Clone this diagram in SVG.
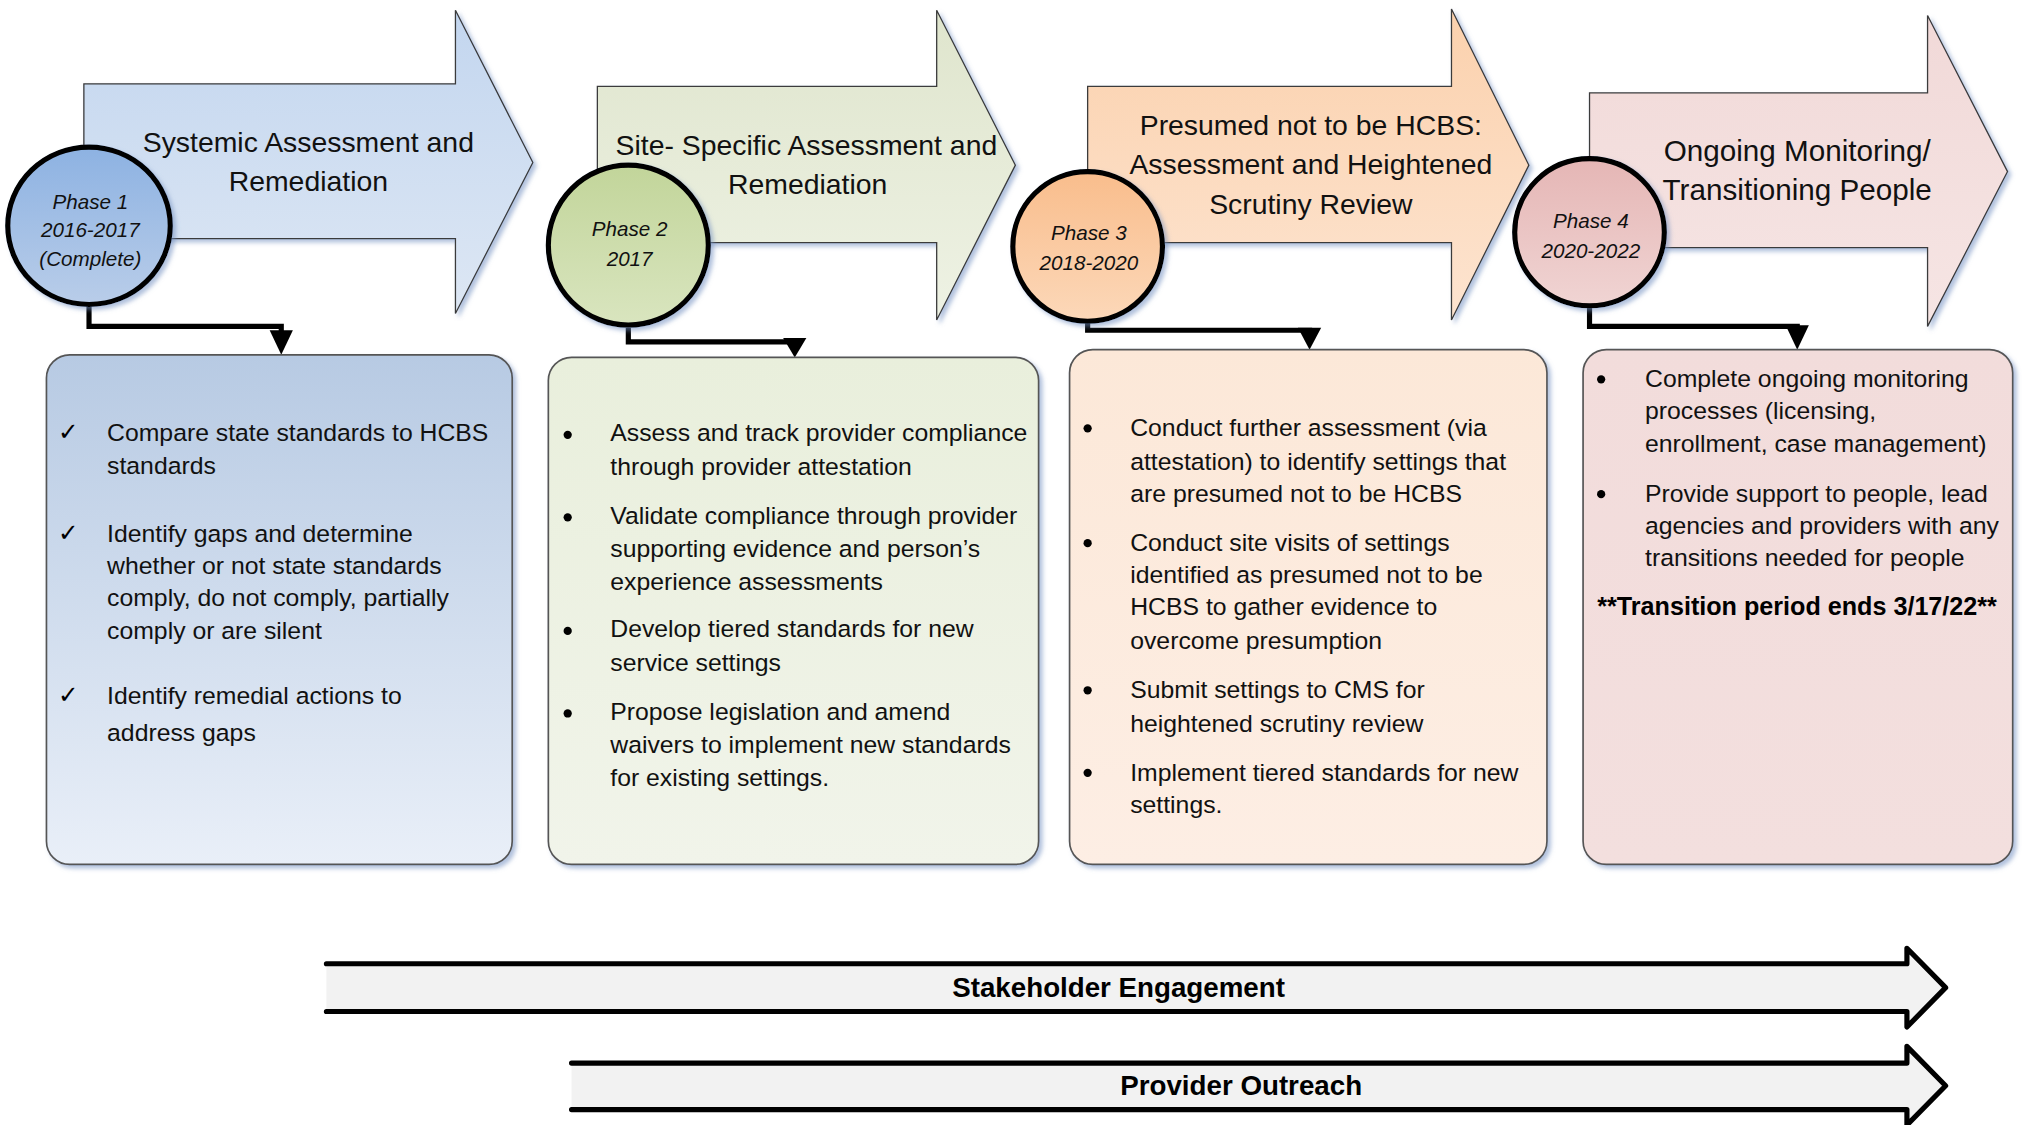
<svg xmlns="http://www.w3.org/2000/svg" width="2023" height="1125" viewBox="0 0 2023 1125">
<defs>
<style>
.title{font-family:"Liberation Sans",Arial,sans-serif;font-size:22px;fill:#111;text-anchor:middle}
.ph{font-family:"Liberation Sans",Arial,sans-serif;font-size:16px;font-style:italic;fill:#111;text-anchor:middle}
.body{font-family:"Liberation Sans",Arial,sans-serif;font-size:19.2px;fill:#111}
.chk{font-family:"DejaVu Sans",sans-serif;font-size:19px;fill:#000}
.dot{fill:#000}
.bold{font-family:"Liberation Sans",Arial,sans-serif;font-size:19.5px;font-weight:bold;fill:#000}
.big{font-family:"Liberation Sans",Arial,sans-serif;font-size:21.5px;font-weight:bold;fill:#000;text-anchor:middle}
.arrow{stroke:#3a3a3a;stroke-width:1;stroke-linejoin:miter}
.circ{stroke:#000;stroke-width:4}
.box{stroke:#555;stroke-width:1.3}
.conn{fill:none;stroke:#000;stroke-width:4;stroke-linejoin:miter}
.band{fill:none;stroke:#000;stroke-width:4;stroke-linejoin:round;stroke-linecap:round}
</style>
<filter id="sh" x="-10%" y="-10%" width="125%" height="125%">
<feDropShadow dx="2.5" dy="2.5" stdDeviation="1.5" flood-color="#6f8fc0" flood-opacity="0.55"/>
</filter>
<linearGradient id="a1" x1="0" y1="0" x2="0" y2="1"><stop offset="0" stop-color="#c3d6ef"/><stop offset="1" stop-color="#dde7f4"/></linearGradient>
<linearGradient id="a2" x1="0" y1="0" x2="0" y2="1"><stop offset="0" stop-color="#dfe5cd"/><stop offset="1" stop-color="#eef2e4"/></linearGradient>
<linearGradient id="a3" x1="0" y1="0" x2="0" y2="1"><stop offset="0" stop-color="#fbd1ad"/><stop offset="1" stop-color="#fde4d0"/></linearGradient>
<linearGradient id="a4" x1="0" y1="0" x2="0" y2="1"><stop offset="0" stop-color="#f1d9d8"/><stop offset="1" stop-color="#f6e5e4"/></linearGradient>
<linearGradient id="c1" x1="0" y1="0" x2="0" y2="1"><stop offset="0" stop-color="#8db2e2"/><stop offset="1" stop-color="#b9cde9"/></linearGradient>
<linearGradient id="c2" x1="0" y1="0" x2="0" y2="1"><stop offset="0" stop-color="#c2d59a"/><stop offset="1" stop-color="#d9e5bf"/></linearGradient>
<linearGradient id="c3" x1="0" y1="0" x2="0" y2="1"><stop offset="0" stop-color="#f9bd8c"/><stop offset="1" stop-color="#fcd8b9"/></linearGradient>
<linearGradient id="c4" x1="0" y1="0" x2="0" y2="1"><stop offset="0" stop-color="#e5b6b5"/><stop offset="1" stop-color="#f0d4d3"/></linearGradient>
<linearGradient id="b1" x1="0" y1="0" x2="0" y2="1"><stop offset="0" stop-color="#b7cae3"/><stop offset="1" stop-color="#e9eff8"/></linearGradient>
<linearGradient id="b2" x1="0" y1="0" x2="0" y2="1"><stop offset="0" stop-color="#e9efdc"/><stop offset="1" stop-color="#f1f4ea"/></linearGradient>
<linearGradient id="b3" x1="0" y1="0" x2="0" y2="1"><stop offset="0" stop-color="#fce8d8"/><stop offset="1" stop-color="#fdeee4"/></linearGradient>
<linearGradient id="b4" x1="0" y1="0" x2="0" y2="1"><stop offset="0" stop-color="#f2dcdb"/><stop offset="1" stop-color="#f3dfde"/></linearGradient>
</defs>
<rect width="2023" height="1125" fill="#fff"/>
<g transform="scale(1.2902)">

<g id="phase1-arrow">
<path class="arrow" filter="url(#sh)" fill="url(#a1)" d="M65,65 H353 V8 L413,126 L353,243 V185 H65 Z"/>
<text class="title" x="239" y="118">Systemic Assessment and</text>
<text class="title" x="239" y="148">Remediation</text>
</g>
<g id="phase2-arrow">
<path class="arrow" filter="url(#sh)" fill="url(#a2)" d="M463,67 H726 V8 L787,128 L726,248 V188 H463 Z"/>
<text class="title" x="625" y="120">Site- Specific Assessment and</text>
<text class="title" x="626" y="150">Remediation</text>
</g>
<g id="phase3-arrow">
<path class="arrow" filter="url(#sh)" fill="url(#a3)" d="M843,67 H1125 V7 L1185,128 L1125,248 V188 H843 Z"/>
<text class="title" x="1016" y="105">Presumed not to be HCBS:</text>
<text class="title" x="1016" y="135">Assessment and Heightened</text>
<text class="title" x="1016" y="166">Scrutiny Review</text>
</g>
<g id="phase4-arrow">
<path class="arrow" filter="url(#sh)" fill="url(#a4)" d="M1232,72 H1494 V12 L1556,133 L1494,253 V192 H1232 Z"/>
<text class="title" x="1393" y="125" style="font-size:23px">Ongoing Monitoring/</text>
<text class="title" x="1393" y="155" style="font-size:23px">Transitioning People</text>
</g>

<g id="connectors">
<path class="conn" d="M69,236 V253 H218 V258"/>
<polygon points="209,256 227,256 218,275" fill="#000"/>
<path class="conn" d="M487,254 V265 H616 V268"/>
<polygon points="607,262 625,262 616,277" fill="#000"/>
<path class="conn" d="M843,249 V256 H1015 V258"/>
<polygon points="1006,254 1024,254 1015,271" fill="#000"/>
<path class="conn" d="M1232,236 V253 H1393 V256"/>
<polygon points="1384,252 1402,252 1393,271" fill="#000"/>
</g>

<g id="phase1-circle">
<ellipse class="circ" filter="url(#sh)" fill="url(#c1)" cx="69" cy="175" rx="63" ry="61"/>
<text class="ph" x="70" y="162">Phase 1</text>
<text class="ph" x="70" y="184">2016-2017</text>
<text class="ph" x="70" y="206">(Complete)</text>
</g>
<g id="phase2-circle">
<ellipse class="circ" filter="url(#sh)" fill="url(#c2)" cx="487" cy="190" rx="62" ry="62"/>
<text class="ph" x="488" y="183">Phase 2</text>
<text class="ph" x="488" y="206">2017</text>
</g>
<g id="phase3-circle">
<ellipse class="circ" filter="url(#sh)" fill="url(#c3)" cx="843" cy="191" rx="58" ry="58"/>
<text class="ph" x="844" y="186">Phase 3</text>
<text class="ph" x="844" y="209">2018-2020</text>
</g>
<g id="phase4-circle">
<ellipse class="circ" filter="url(#sh)" fill="url(#c4)" cx="1232" cy="180" rx="58" ry="57"/>
<text class="ph" x="1233" y="177">Phase 4</text>
<text class="ph" x="1233" y="200">2020-2022</text>
</g>

<g id="box1">
<rect class="box" filter="url(#sh)" fill="url(#b1)" x="36" y="275" width="361" height="395" rx="18"/>
<text class="chk" x="45" y="341">✓</text>
<text class="body" x="83" y="342">Compare state standards to HCBS</text>
<text class="body" x="83" y="367">standards</text>
<text class="chk" x="45" y="419">✓</text>
<text class="body" x="83" y="420">Identify gaps and determine</text>
<text class="body" x="83" y="445">whether or not state standards</text>
<text class="body" x="83" y="470">comply, do not comply, partially</text>
<text class="body" x="83" y="495">comply or are silent</text>
<text class="chk" x="45" y="545">✓</text>
<text class="body" x="83" y="546">Identify remedial actions to</text>
<text class="body" x="83" y="574">address gaps</text>
</g>

<g id="box2">
<rect class="box" filter="url(#sh)" fill="url(#b2)" x="425" y="277" width="380" height="393" rx="18"/>
<circle class="dot" cx="440" cy="337" r="3.2"/>
<text class="body" x="473" y="342">Assess and track provider compliance</text>
<text class="body" x="473" y="368">through provider attestation</text>
<circle class="dot" cx="440" cy="401" r="3.2"/>
<text class="body" x="473" y="406">Validate compliance through provider</text>
<text class="body" x="473" y="432">supporting evidence and person’s</text>
<text class="body" x="473" y="457">experience assessments</text>
<circle class="dot" cx="440" cy="489" r="3.2"/>
<text class="body" x="473" y="494">Develop tiered standards for new</text>
<text class="body" x="473" y="520">service settings</text>
<circle class="dot" cx="440" cy="553" r="3.2"/>
<text class="body" x="473" y="558">Propose legislation and amend</text>
<text class="body" x="473" y="584">waivers to implement new standards</text>
<text class="body" x="473" y="609">for existing settings.</text>
</g>

<g id="box3">
<rect class="box" filter="url(#sh)" fill="url(#b3)" x="829" y="271" width="370" height="399" rx="18"/>
<circle class="dot" cx="843" cy="332" r="3.2"/>
<text class="body" x="876" y="338">Conduct further assessment (via</text>
<text class="body" x="876" y="364">attestation) to identify settings that</text>
<text class="body" x="876" y="389">are presumed not to be HCBS</text>
<circle class="dot" cx="843" cy="421" r="3.2"/>
<text class="body" x="876" y="427">Conduct site visits of settings</text>
<text class="body" x="876" y="452">identified as presumed not to be</text>
<text class="body" x="876" y="477">HCBS to gather evidence to</text>
<text class="body" x="876" y="503">overcome presumption</text>
<circle class="dot" cx="843" cy="535" r="3.2"/>
<text class="body" x="876" y="541">Submit settings to CMS for</text>
<text class="body" x="876" y="567">heightened scrutiny review</text>
<circle class="dot" cx="843" cy="599" r="3.2"/>
<text class="body" x="876" y="605">Implement tiered standards for new</text>
<text class="body" x="876" y="630">settings.</text>
</g>

<g id="box4">
<rect class="box" filter="url(#sh)" fill="url(#b4)" x="1227" y="271" width="333" height="399" rx="18"/>
<circle class="dot" cx="1241" cy="294" r="3.2"/>
<text class="body" x="1275" y="300">Complete ongoing monitoring</text>
<text class="body" x="1275" y="325">processes (licensing,</text>
<text class="body" x="1275" y="350">enrollment, case management)</text>
<circle class="dot" cx="1241" cy="383" r="3.2"/>
<text class="body" x="1275" y="389">Provide support to people, lead</text>
<text class="body" x="1275" y="414">agencies and providers with any</text>
<text class="body" x="1275" y="439">transitions needed for people</text>
<text class="bold" x="1238" y="477">**Transition period ends 3/17/22**</text>
</g>

<g id="stakeholder-engagement">
<path fill="#f2f2f2" d="M253,747 H1478 V735 L1508,765.5 L1478,796 V784 H253 Z"/>
<path class="band" d="M253,747 H1478 V735 L1508,765.5 L1478,796 V784 H253"/>
<text class="big" x="867" y="773">Stakeholder Engagement</text>
</g>
<g id="provider-outreach">
<path fill="#f2f2f2" d="M443,824 H1478 V811 L1508,841.5 L1478,872 V860 H443 Z"/>
<path class="band" d="M443,824 H1478 V811 L1508,841.5 L1478,872 V860 H443"/>
<text class="big" x="962" y="849">Provider Outreach</text>
</g>

</g>
</svg>
